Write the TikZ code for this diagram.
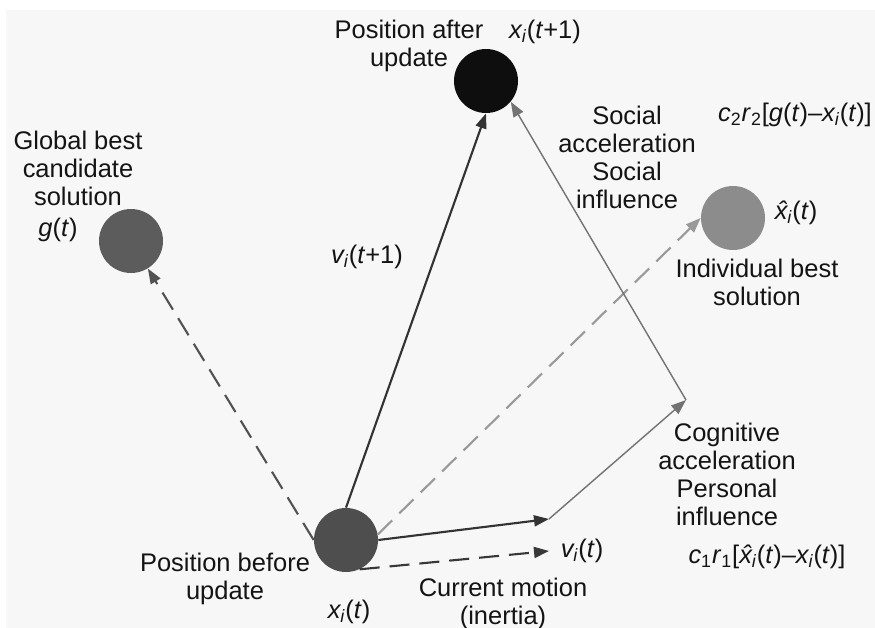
\documentclass[tikz,border=0pt]{standalone}
\usepackage{fontspec}
\setmainfont{Liberation Sans}
\usepackage{xcolor}
\usetikzlibrary{arrows.meta}

\definecolor{nowgray}{HTML}{4E4E4E}
\definecolor{globgray}{HTML}{5C5C5C}
\definecolor{persgray}{HTML}{8C8C8C}
\definecolor{newblack}{HTML}{0E0E0E}

\begin{document}
\begin{tikzpicture}[
    >={Triangle[length=3mm,width=2.2mm]},
    x=0.02cm, y=-0.02cm,
    particle/.style={circle,minimum size=1.28cm,inner sep=0pt},
    lbl/.style={align=center,inner sep=0pt,text=black!92,
                font=\fontsize{14.5}{15.9}\selectfont},
    velo/.style={->,line width=1.2pt,draw=black!80},
    accel/.style={->,line width=0.8pt,draw=black!55},
    pull/.style={->,dashed,dash pattern=on 4mm off 2mm,line width=1.2pt},
  ]

  % page, pixel grid of the source (y runs downward)
  \useasboundingbox (0,0) rectangle (875,628);
  \fill[white] (0,0) rectangle (875,628);
  \fill[black!3] (6,10) rectangle (875,628);

  % --- the four positions ---
  \node[particle,fill=nowgray]  (xt)    at (346,540) {};
  \node[particle,fill=newblack] (xnew)  at (486,81)  {};
  \node[particle,fill=globgray] (gbest) at (131,241) {};
  \node[particle,fill=persgray] (pbest) at (733,218) {};

  % --- free ends of the vector sum ---
  \coordinate (vtip)  at (549,519);
  \coordinate (ctip)  at (686,400);
  \coordinate (inert) at (549,551);

  % --- attraction towards the two bests (dashed) ---
  \draw[pull,draw=black!68] (xt.west) -- (gbest);
  \draw[pull,draw=black!40] (xt.10) -- (pbest.west);
  \draw[pull,draw=black!78] (xt.-65) -- (inert);

  % --- velocity and the accelerations ---
  \draw[velo] (xt.east) -- (vtip);
  \draw[accel] (vtip) -- (ctip);
  \draw[accel] (ctip) -- (xnew.-40);
  \draw[velo] (xt.north) -- (xnew.south);

  % --- labels ---
  \node[lbl] (afterlbl)  at (409,46)  {Position after\\update};
  \node[lbl] (xnewlbl)   at (545,32)  {\textit{x\textsubscript{i}}(\textit{t}+1)};
  \node[lbl] (gbestlbl)  at (78,168)  {Global best\\candidate\\solution};
  \node[lbl] (glbl)      at (58,230)  {\textit{g}(\textit{t})};
  \node[lbl] (vnewlbl)   at (367,257) {\textit{v\textsubscript{i}}(\textit{t}+1)};
  \node[lbl] (sociallbl) at (627,157) {Social\\acceleration\\Social\\influence};
  \node[lbl] (c2lbl)     at (795,115)
    {\textit{c}\textsubscript{2}\textit{r}\textsubscript{2}[\textit{g}(\textit{t})\textendash\textit{x\textsubscript{i}}(\textit{t})]};
  \node[lbl] (pbestsym)  at (796,213) {\textit{\^{x}\textsubscript{i}}(\textit{t})};
  \node[lbl] (pbestlbl)  at (757,282) {Individual best\\solution};
  \node[lbl] (beforelbl) at (225,579) {Position before\\update};
  \node[lbl] (xtlbl)     at (349,612) {\textit{x\textsubscript{i}}(\textit{t})};
  \node[lbl] (vtlbl)     at (582,551) {\textit{v\textsubscript{i}}(\textit{t})};
  \node[lbl] (inertlbl)  at (503,604) {Current motion\\(inertia)};
  \node[lbl] (coglbl)    at (727,474) {Cognitive\\acceleration\\Personal\\influence};
  \node[lbl] (c1lbl)     at (767,557)
    {\textit{c}\textsubscript{1}\textit{r}\textsubscript{1}[\textit{\^{x}\textsubscript{i}}(\textit{t})\textendash\textit{x\textsubscript{i}}(\textit{t})]};

\end{tikzpicture}
\end{document}
